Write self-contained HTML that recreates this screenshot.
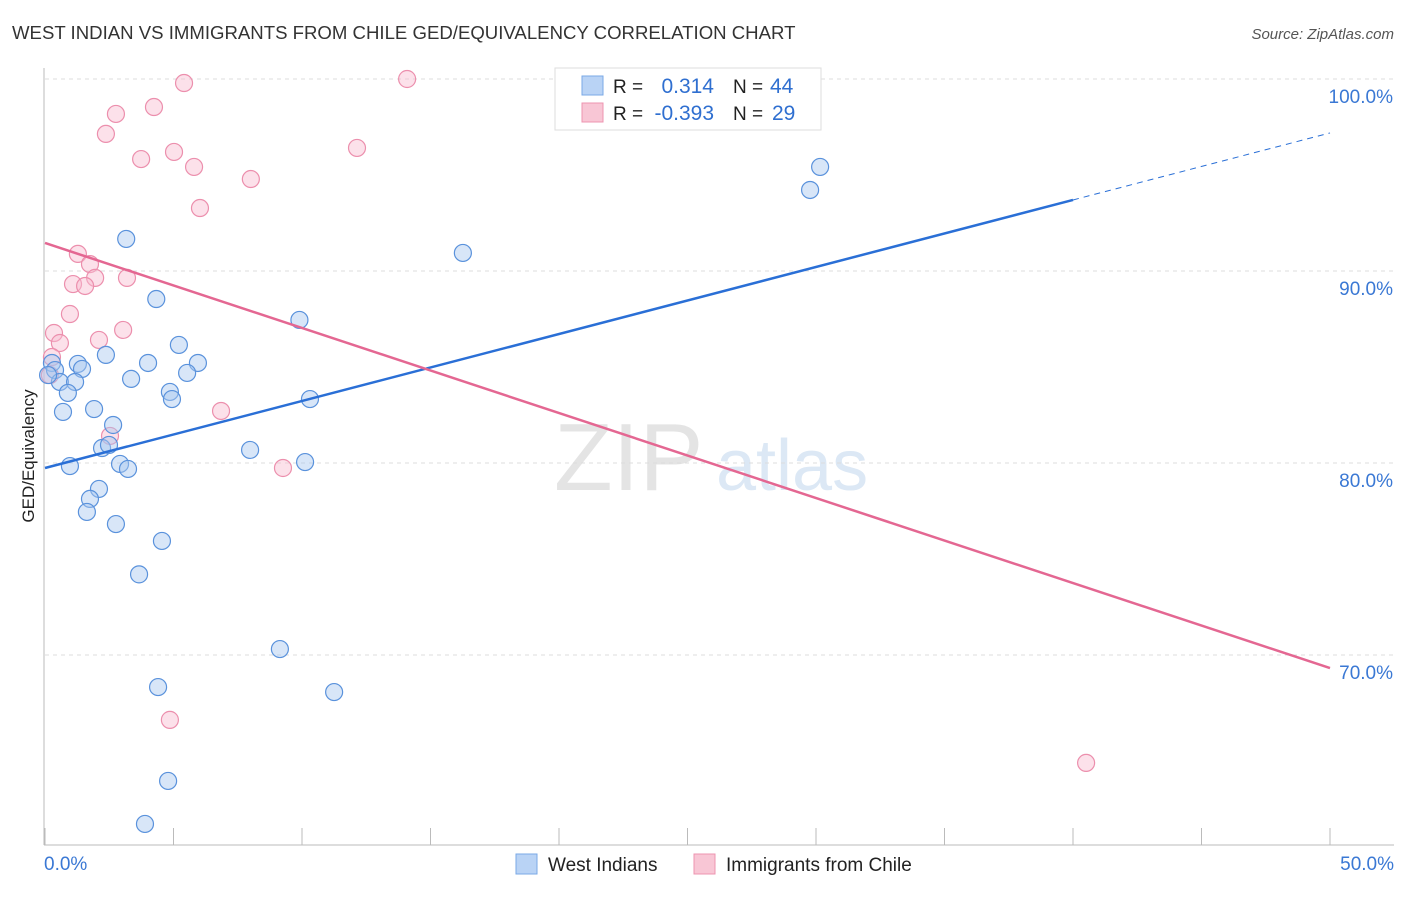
<!DOCTYPE html>
<html><head><meta charset="utf-8"><style>
body{margin:0;background:#fff;font-family:"Liberation Sans",sans-serif;}
svg text{font-family:"Liberation Sans",sans-serif;}
</style></head><body>
<svg id="chart" width="1406" height="892" xmlns="http://www.w3.org/2000/svg">
<text x="12" y="39" font-size="18.6" fill="#333">WEST INDIAN VS IMMIGRANTS FROM CHILE GED/EQUIVALENCY CORRELATION CHART</text>
<text x="1394" y="39" font-size="15" fill="#555" font-style="italic" text-anchor="end">Source: ZipAtlas.com</text>
<text x="554" y="490" font-size="96" fill="#e4e4e4" font-family="Liberation Serif">ZIP</text>
<text x="716" y="490" font-size="72" fill="#dce8f5">atlas</text>
<text transform="translate(34,456) rotate(-90)" font-size="17" fill="#222" text-anchor="middle">GED/Equivalency</text>
<g id="grid"></g>
<g id="axes"></g>
<g id="marks"></g>
<g>
<rect x="555" y="68" width="266" height="62" fill="#fff" stroke="#ddd"/>
<rect x="582" y="76" width="21" height="19" fill="#b9d3f5" stroke="#7aa8e6"/>
<rect x="582" y="103" width="21" height="19" fill="#f8c6d5" stroke="#ee94b0"/>
<text x="613" y="93" font-size="19" fill="#222">R = </text><text x="714" y="93" font-size="21" fill="#2f6fd0" text-anchor="end">0.314</text>
<text x="733" y="93" font-size="19" fill="#222">N = </text><text x="770" y="93" font-size="21" fill="#2f6fd0">44</text>
<text x="613" y="120" font-size="19" fill="#222">R = </text><text x="714" y="120" font-size="21" fill="#2f6fd0" text-anchor="end">-0.393</text>
<text x="733" y="120" font-size="19" fill="#222">N = </text><text x="772" y="120" font-size="21" fill="#2f6fd0">29</text>
</g>
<g>
<rect x="516" y="854" width="21" height="20" fill="#b9d3f5" stroke="#7aa8e6"/>
<text x="548" y="871" font-size="19" fill="#222">West Indians</text>
<rect x="694" y="854" width="21" height="20" fill="#f8c6d5" stroke="#ee94b0"/>
<text x="726" y="871" font-size="19" fill="#222">Immigrants from Chile</text>
</g>
</svg>
<script>
const yTicks=[100,90,80,70];
const yTickLabels=["100.0%","90.0%","80.0%","70.0%"];
const xTickLabels=["0.0%","50.0%"];
const blueX=[3.16,4.33,9.90,16.26,30.16,29.77,5.21,2.37,4.01,5.95,1.28,1.44,0.27,0.39,0.58,1.17,0.89,3.35,5.53,4.86,4.94,10.31,1.91,0.70,2.65,2.22,2.49,7.98,2.92,3.23,10.12,0.97,2.10,1.75,1.63,2.76,4.55,3.66,9.14,4.40,11.25,4.79,3.89,0.12];
const blueY=[91.67,88.54,87.45,90.94,95.42,94.22,86.15,85.63,85.21,85.21,85.16,84.90,85.21,84.84,84.22,84.22,83.65,84.38,84.69,83.70,83.33,83.33,82.81,82.66,81.98,80.78,80.94,80.68,79.95,79.69,80.05,79.84,78.65,78.13,77.45,76.82,75.94,74.20,70.31,68.33,68.07,63.44,61.20,84.58];
const pinkX=[5.41,14.09,4.24,2.76,2.37,3.74,5.02,5.80,12.14,8.01,6.03,1.28,1.75,1.95,3.19,1.09,1.56,0.97,0.35,3.04,2.10,0.58,0.27,6.85,2.53,9.26,4.86,40.51,0.19];
const pinkY=[99.79,100,98.54,98.18,97.14,95.83,96.20,95.42,96.41,94.79,93.28,90.89,90.36,89.64,89.64,89.32,89.22,87.76,86.77,86.93,86.41,86.25,85.52,82.71,81.41,79.74,66.62,64.38,84.58];
const blueTrend=[79.74,97.19];
const pinkTrend=[91.46,69.32];
const NS="http://www.w3.org/2000/svg";
const X0=45,X1=1330,Y100=79,PPU=19.2;
function sx(v){return X0+(X1-X0)*v/50;}
function sy(v){return Y100+(100-v)*PPU;}
function mk(t,a,p){const e=document.createElementNS(NS,t);for(const k in a)e.setAttribute(k,a[k]);p.appendChild(e);return e;}
const grid=document.getElementById('grid'),axes=document.getElementById('axes'),marks=document.getElementById('marks');
yTicks.forEach((t,i)=>{
 const l=mk('line',{x1:45,x2:1394,y1:sy(t),y2:sy(t),stroke:'#ddd','stroke-dasharray':'4,4'},grid);
 
 
 const tx=mk('text',{x:1393,y:sy(t)+24,'font-size':19,fill:'#3a78d4','text-anchor':'end'},axes);
 tx.textContent=yTickLabels[i];
 
 
});
mk('line',{x1:44,x2:44,y1:68,y2:845,stroke:'#bbb'},axes);
mk('line',{x1:44,x2:1394,y1:845,y2:845,stroke:'#bbb'},axes);
for(let i=0;i<=10;i++){const t=mk('line',{x1:sx(i*5),x2:sx(i*5),y1:828,y2:845,stroke:'#bbb'},axes);
 
 }
[[0,'start',44],[50,'end',1394]].forEach((d,i)=>{const t=mk('text',{x:d[2],y:870,'font-size':19,fill:'#3a78d4','text-anchor':d[1]},axes);t.textContent=xTickLabels[i];
 
 });
function line(tr,x0,x1,col,dash,name){const f=x=>tr[0]+(tr[1]-tr[0])*x/50;
 const l=mk('line',{x1:sx(x0),y1:sy(f(x0)),x2:sx(x1),y2:sy(f(x1)),stroke:col,'stroke-width':dash?1:2.5},marks);
 if(dash)l.setAttribute('stroke-dasharray','6,5');
 
 }
function pts(xs,ys,fill,stroke,name){xs.forEach((x,i)=>{const c=mk('circle',{cx:sx(x),cy:sy(ys[i]),r:8.5,fill:fill,'fill-opacity':0.45,stroke:stroke,'stroke-width':1.2},marks);
 
 });}
pts(pinkX,pinkY,'#f8bdd0','#ec8fad','chile-point');
pts(blueX,blueY,'#a9c8f0','#5a92dc','west-indian-point');
line(blueTrend,0,40,'#2a6fd6',false,'west-indian-trendline');
line(blueTrend,40,50,'#2a6fd6',true,'west-indian-trendline-extension');
line(pinkTrend,0,50,'#e46792',false,'chile-trendline');
</script>
</body></html>
